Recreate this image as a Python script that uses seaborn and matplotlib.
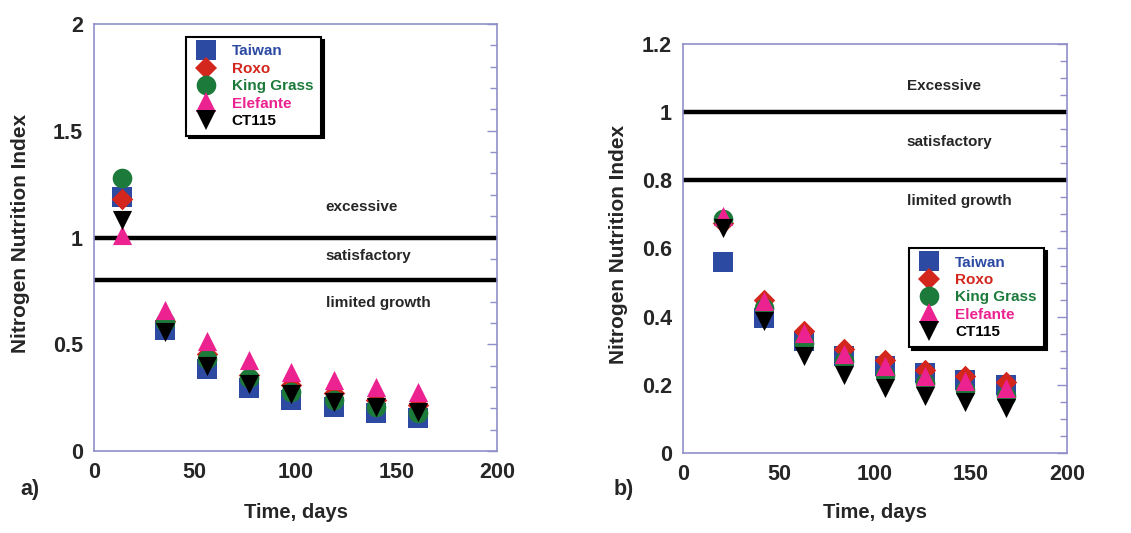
import numpy as np
import pandas as pd
import matplotlib
matplotlib.use("Agg")
import matplotlib.pyplot as plt
from matplotlib.ticker import MultipleLocator
from matplotlib.lines import Line2D
import seaborn as sns

# ── data ────────────────────────────────────────────────────────────────
cultivars = ["Taiwan", "Roxo", "King Grass", "Elefante", "CT115"]

days_a = [14, 35, 56, 77, 98, 119, 140, 161]
taiwan_a   = [1.19, 0.565, 0.386, 0.293, 0.238, 0.204, 0.176, 0.153]
roxo_a     = [1.18, 0.610, 0.453, 0.355, 0.308, 0.270, 0.238, 0.215]
king_a     = [1.28, 0.604, 0.433, 0.340, 0.277, 0.238, 0.204, 0.176]
elefante_a = [1.01, 0.659, 0.516, 0.425, 0.371, 0.332, 0.300, 0.277]
ct115_a    = [1.08, 0.557, 0.397, 0.313, 0.265, 0.230, 0.207, 0.184]

days_b = [21, 42, 63, 84, 105, 126, 147, 168]
taiwan_b   = [0.559, 0.396, 0.328, 0.284, 0.254, 0.235, 0.215, 0.200]
roxo_b     = [0.675, 0.450, 0.357, 0.305, 0.272, 0.244, 0.225, 0.207]
king_b     = [0.687, 0.425, 0.323, 0.269, 0.230, 0.205, 0.186, 0.166]
elefante_b = [0.694, 0.445, 0.352, 0.289, 0.254, 0.227, 0.210, 0.191]
ct115_b    = [0.660, 0.386, 0.284, 0.230, 0.191, 0.168, 0.149, 0.132]

thresholds = [1.0, 0.8]
zones_a = ["excessive", "satisfactory", "limited growth"]
zones_b = ["Excessive", "satisfactory", "limited growth"]

COLORS  = {"Taiwan": "#2d4aa3", "Roxo": "#d3261c", "King Grass": "#1c7a3a",
           "Elefante": "#ec2290", "CT115": "#000000"}
MARKERS = {"Taiwan": "s", "Roxo": "D", "King Grass": "o", "Elefante": "^", "CT115": "v"}
SIZES   = {"Taiwan": 190, "Roxo": 120, "King Grass": 200, "Elefante": 190, "CT115": 190}
SPINE   = "#8f8fc9"


def long_frame(days, series):
    rows = []
    for name, vals in zip(cultivars, series):
        for d, v in zip(days, vals):
            rows.append({"day": d, "nni": v, "cultivar": name})
    return pd.DataFrame(rows)


df_a = long_frame(days_a, [taiwan_a, roxo_a, king_a, elefante_a, ct115_a])
df_b = long_frame(days_b, [taiwan_b, roxo_b, king_b, elefante_b, ct115_b])

sns.set_style("white")
plt.rcParams["font.family"] = ["Liberation Sans", "DejaVu Sans"]
plt.rcParams["font.weight"] = "bold"

fig = plt.figure(figsize=(11.31, 5.33), dpi=100)
ax_a = fig.add_axes([0.0831, 0.1538, 0.3563, 0.8011])
ax_b = fig.add_axes([0.6039, 0.1501, 0.3395, 0.7674])


def draw_panel(ax, df, ymax, ymajor, yminor, zones, zone_y, zone_x, leg_anchor, ylab_x):
    for name in cultivars:
        sub = df[df["cultivar"] == name]
        sns.scatterplot(data=sub, x="day", y="nni", ax=ax, color=COLORS[name],
                        marker=MARKERS[name], s=SIZES[name], linewidth=0,
                        legend=False, zorder=3)
    for t in thresholds:
        ax.axhline(t, color="black", lw=3.2, zorder=2)
    for txt, y in zip(zones, zone_y):
        ax.text(zone_x, y, txt, fontsize=11, fontweight="bold", va="center", ha="left")

    ax.set_xlim(0, 200)
    ax.set_ylim(0, ymax)
    ax.xaxis.set_major_locator(MultipleLocator(50))
    ax.yaxis.set_major_locator(MultipleLocator(ymajor))
    ax.yaxis.set_minor_locator(MultipleLocator(yminor))
    ax.xaxis.set_major_formatter(plt.FuncFormatter(lambda v, p: f"{v:g}"))
    ax.yaxis.set_major_formatter(plt.FuncFormatter(lambda v, p: f"{v:g}"))
    ax.tick_params(axis="both", which="both", direction="in", color=SPINE,
                   labelsize=15.5, pad=8, width=1)
    ax.tick_params(axis="y", which="both", right=True)
    ax.tick_params(axis="y", which="major", length=7)
    ax.tick_params(axis="y", which="minor", length=5)
    ax.tick_params(axis="x", which="major", length=7)
    for lab in ax.get_xticklabels() + ax.get_yticklabels():
        lab.set_fontweight("bold")
    for sp in ax.spines.values():
        sp.set_color(SPINE)
        sp.set_linewidth(1.2)
    ax.set_xlabel("")
    ax.set_ylabel("Nitrogen Nutrition Index", fontsize=15, fontweight="bold")
    ax.yaxis.set_label_coords(ylab_x, 0.51)

    handles = [Line2D([], [], linestyle="none", marker=MARKERS[n], color=COLORS[n],
                      markersize=np.sqrt(SIZES[n]) * 1.0, markeredgewidth=0)
               for n in cultivars]
    leg = ax.legend(handles, cultivars, loc="upper left", bbox_to_anchor=leg_anchor,
                    borderaxespad=0, frameon=True, fancybox=False,
                    shadow={"color": "black", "alpha": 1.0},
                    labelspacing=0.22, handletextpad=0.9, borderpad=0.5,
                    handlelength=1.6, prop={"weight": "bold", "size": 11})
    leg.get_frame().set_edgecolor("black")
    leg.get_frame().set_linewidth(1.5)
    for txt, n in zip(leg.get_texts(), cultivars):
        txt.set_color(COLORS[n])


draw_panel(ax_a, df_a, 2, 0.5, 0.1, zones_a, [1.143, 0.913, 0.693], 115,
           (0.228, 0.970), -0.158)
draw_panel(ax_b, df_b, 1.2, 0.2, 0.05, zones_b, [1.077, 0.913, 0.739], 116.5,
           (0.589, 0.501), -0.142)

fig.text(296 / 1131, 1 - 512 / 533, "Time, days", fontsize=14.5, fontweight="bold",
         ha="center", va="center")
fig.text(875 / 1131, 1 - 512 / 533, "Time, days", fontsize=14.5, fontweight="bold",
         ha="center", va="center")
fig.text(30 / 1131, 1 - 490 / 533, "a)", fontsize=15.5, fontweight="bold",
         ha="center", va="center")
fig.text(624 / 1131, 1 - 490 / 533, "b)", fontsize=15.5, fontweight="bold",
         ha="center", va="center")

fig.savefig("out.png", dpi=100)
